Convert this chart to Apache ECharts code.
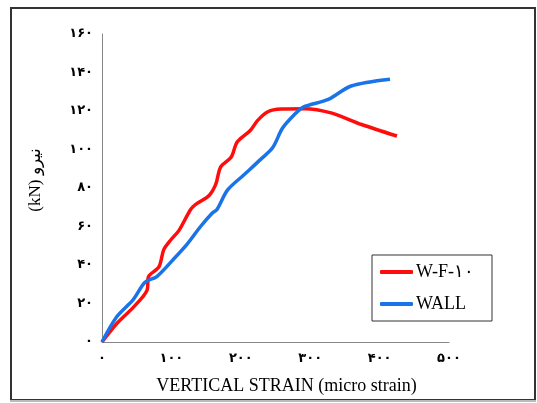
<!DOCTYPE html>
<html>
<head>
<meta charset="utf-8">
<script src="https://cdn.jsdelivr.net/npm/echarts@6/dist/echarts.min.js"></script>
<style>html,body{margin:0;padding:0;background:#fff;}#c{width:537px;height:403px;}</style>
</head>
<body>
<div id="c"></div>
<script>
var xTickLabels = {0:'۰',100:'۱۰۰',200:'۲۰۰',300:'۳۰۰',400:'۴۰۰',500:'۵۰۰'};
var yTickLabels = {0:'۰',20:'۲۰',40:'۴۰',60:'۶۰',80:'۸۰',100:'۱۰۰',120:'۱۲۰',140:'۱۴۰',160:'۱۶۰'};
var seriesNames = ['W-F-۱۰', 'WALL'];
var redStrain = [0, 21, 45, 65, 67, 82, 89, 99, 111, 128, 137, 154, 164, 171, 186, 195, 214, 224, 239, 258, 292, 330, 374, 425];
var redLoad   = [0, 9.5, 18, 27, 34, 39, 48, 53, 58, 69, 72, 76, 82, 91, 96, 104, 110, 115, 119.6, 121, 121.2, 119, 113, 107];
var blueStrain = [0, 21, 45, 62, 79, 103, 123, 142, 159, 166, 181, 205, 229, 246, 260, 277, 290, 326, 359, 415];
var blueLoad   = [0, 13, 22, 31, 34, 43, 51, 60, 67, 69, 79, 87, 95, 101, 111, 118, 122, 126, 133, 136.5];

function pairs(xs, ys){ return xs.map(function(x,i){return [x, ys[i]];}); }

var chart = echarts.init(document.getElementById('c'), null, {renderer:'canvas'});
chart.setOption({
  backgroundColor:'#fff',
  animation:false,
  grid:{left:102, right:88, top:34, bottom:61},
  graphic:[
    {type:'rect', shape:{x:11, y:8, width:524, height:392}, style:{fill:'none', stroke:'#333', lineWidth:2}, z:100},
    {type:'line', shape:{x1:10, y1:401, x2:536, y2:401}, style:{stroke:'#bbb', lineWidth:2}, z:101}
  ],
  legend:{
    left:372, top:255,
    orient:'vertical',
    data:[{name:seriesNames[0]},{name:seriesNames[1]}],
    icon:'roundRect', itemWidth:33, itemHeight:4, itemGap:14,
    borderColor:'#333', borderWidth:1, padding:[8,18,8,8],
    textStyle:{fontFamily:'Liberation Serif', fontSize:18, color:'#000', padding:[0,0,0,-2]}
  },
  xAxis:{
    type:'value', min:0, max:500, interval:100,
    name:'VERTICAL STRAIN (micro strain)', nameLocation:'middle', nameGap:35,
    nameTextStyle:{fontFamily:'Liberation Serif', fontSize:18, color:'#000', padding:[0,0,0,22]},
    axisLine:{show:true, lineStyle:{color:'#888', width:1}},
    axisTick:{show:false}, splitLine:{show:false},
    axisLabel:{margin:10, fontFamily:'DejaVu Sans', fontSize:13, fontWeight:'bold', color:'#000',
      formatter:function(v){return xTickLabels[v];}}
  },
  yAxis:{
    type:'value', min:0, max:160, interval:20,
    name:'(kN) نیرو', nameLocation:'middle', nameGap:58, nameRotate:90,
    nameTextStyle:{fontFamily:'Liberation Serif', fontSize:17, color:'#000', padding:[0,0,0,16]},
    axisLine:{show:true, lineStyle:{color:'#888', width:1}},
    axisTick:{show:false}, splitLine:{show:false},
    axisLabel:{margin:9, fontFamily:'DejaVu Sans', fontSize:13, fontWeight:'bold', color:'#000',
      formatter:function(v){return yTickLabels[v];}}
  },
  series:[
    {name:seriesNames[0], type:'line', data:pairs(redStrain, redLoad), smooth:0.3, showSymbol:false,
     lineStyle:{color:'#ff0d0d', width:3.5}, itemStyle:{color:'#ff0d0d'}, z:2},
    {name:seriesNames[1], type:'line', data:pairs(blueStrain, blueLoad), smooth:0.3, showSymbol:false,
     lineStyle:{color:'#1a73e8', width:3.5}, itemStyle:{color:'#1a73e8'}, z:3}
  ]
});
</script>
</body>
</html>
